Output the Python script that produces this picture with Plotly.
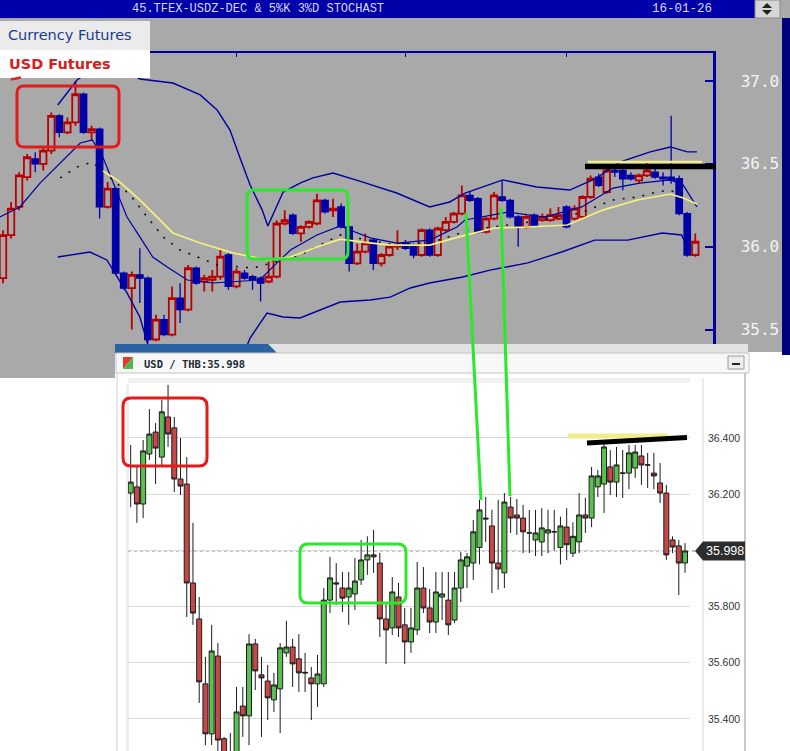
import plotly.graph_objects as go

# ---------------- TOP chart: TFEX USD futures (daily candles) ----------------
TOP_OPEN = [35.81, 36.07, 36.24, 36.42, 36.53, 36.50, 36.58, 36.79, 36.69, 36.75,
            36.92, 36.69, 36.71, 36.24, 36.35, 35.84, 35.75, 35.83, 35.81, 35.44,
            35.56, 35.47, 35.69, 35.62, 35.87, 35.79, 35.80, 35.82, 35.95, 35.76,
            35.84, 35.82, 35.81, 35.79, 35.82, 36.14, 36.19, 36.08, 36.12, 36.14,
            36.28, 36.22, 36.24, 36.12, 35.90, 35.97, 36.04, 35.90, 35.95, 36.00,
            36.02, 36.01, 35.95, 36.10, 35.95, 36.10, 36.15, 36.20, 36.31, 36.29,
            36.09, 36.17, 36.30, 36.28, 36.18, 36.12, 36.19, 36.16, 36.16, 36.17,
            36.24, 36.17, 36.18, 36.30, 36.42, 36.33, 36.46, 36.46, 36.43, 36.40,
            36.43, 36.45, 36.42, 36.42, 36.41, 36.20, 35.95]
TOP_HIGH = [36.10, 36.27, 36.45, 36.56, 36.57, 36.60, 36.81, 36.80, 36.78, 37.00,
            36.93, 36.73, 36.72, 36.39, 36.36, 35.85, 35.85, 35.99, 35.82, 35.59,
            35.59, 35.76, 35.78, 35.89, 35.88, 35.83, 35.86, 35.98, 35.96, 35.87,
            35.86, 35.83, 35.82, 35.91, 36.16, 36.22, 36.20, 36.13, 36.16, 36.32,
            36.29, 36.29, 36.26, 36.13, 36.02, 36.08, 36.05, 35.96, 36.01, 36.10,
            36.04, 36.02, 36.11, 36.11, 36.12, 36.18, 36.21, 36.37, 36.33, 36.30,
            36.18, 36.33, 36.40, 36.29, 36.19, 36.19, 36.20, 36.20, 36.23, 36.24,
            36.25, 36.25, 36.31, 36.43, 36.44, 36.48, 36.48, 36.50, 36.45, 36.44,
            36.51, 36.47, 36.45, 36.79, 36.43, 36.21, 36.08]
TOP_LOW = [35.78, 36.05, 36.22, 36.40, 36.45, 36.46, 36.56, 36.66, 36.68, 36.73,
           36.68, 36.64, 36.17, 36.23, 35.83, 35.74, 35.50, 35.66, 35.42, 35.43,
           35.46, 35.46, 35.54, 35.61, 35.77, 35.73, 35.73, 35.80, 35.74, 35.75,
           35.80, 35.74, 35.67, 35.78, 35.81, 36.13, 36.07, 36.03, 36.11, 36.13,
           36.20, 36.18, 36.11, 35.85, 35.89, 35.96, 35.86, 35.88, 35.94, 35.98,
           35.98, 35.93, 35.94, 35.94, 35.94, 36.09, 36.14, 36.19, 36.27, 36.08,
           36.08, 36.16, 36.27, 36.17, 36.00, 36.11, 36.12, 36.15, 36.15, 36.16,
           36.11, 36.16, 36.17, 36.29, 36.36, 36.32, 36.42, 36.34, 36.40, 36.38,
           36.42, 36.41, 36.37, 36.38, 36.19, 35.94, 35.94]
TOP_CLOSE = [36.07, 36.23, 36.43, 36.54, 36.50, 36.58, 36.79, 36.69, 36.75, 36.92,
             36.69, 36.71, 36.24, 36.35, 35.84, 35.75, 35.83, 35.81, 35.44, 35.56,
             35.47, 35.69, 35.62, 35.87, 35.78, 35.81, 35.82, 35.94, 35.76, 35.85,
             35.81, 35.80, 35.78, 35.82, 36.14, 36.16, 36.08, 36.12, 36.15, 36.28,
             36.21, 36.23, 36.12, 35.90, 35.97, 36.02, 35.90, 35.95, 36.00, 36.01,
             35.99, 35.95, 36.10, 35.95, 36.11, 36.15, 36.20, 36.31, 36.28, 36.09,
             36.17, 36.31, 36.28, 36.18, 36.12, 36.18, 36.13, 36.18, 36.19, 36.19,
             36.12, 36.23, 36.30, 36.41, 36.37, 36.46, 36.45, 36.41, 36.41, 36.43,
             36.46, 36.42, 36.41, 36.40, 36.20, 35.95, 36.03]

# indicator lines of the top chart, read at sample positions (bar index, value)
UPPER_X = [6.8, 9.2, 13.0, 17.0, 21.1, 24.5, 26.6, 28.2, 29.4, 30.7, 32.2, 32.9, 34.8, 36.9,
           38.5, 41.0, 44.7, 48.9, 53.0, 55.5, 57.4, 62.1, 66.3, 70.4, 73.8, 76.6, 80.4,
           82.9, 85.0, 86.2]
UPPER_Y = [36.855, 37.006, 37.127, 37.012, 36.988, 36.916, 36.825, 36.704, 36.541, 36.372,
           36.221, 36.125, 36.330, 36.384, 36.415, 36.445, 36.390, 36.324, 36.240, 36.270,
           36.324, 36.403, 36.360, 36.342, 36.415, 36.511, 36.572, 36.602, 36.572, 36.572]
LOWER_X = [6.8, 10.8, 12.9, 14.2, 15.4, 17.0, 17.9, 18.9, 28.8, 30.7, 32.8, 34.8, 36.9,
           39.4, 41.9, 45.6, 48.1, 50.6, 53.0, 57.1, 60.5, 65.2, 69.4, 73.5, 77.6, 81.9,
           84.3, 84.7]
LOWER_Y = [35.938, 35.968, 35.920, 35.817, 35.721, 35.576, 35.437, 35.256, 35.226, 35.449,
           35.600, 35.576, 35.570, 35.618, 35.666, 35.678, 35.696, 35.751, 35.781, 35.817,
           35.859, 35.902, 35.968, 36.040, 36.040, 36.083, 36.071, 36.028]
INNER_X = [-0.4, 2.1, 4.6, 7.1, 9.6, 11.1, 12.4, 13.7, 15.4, 17.0, 18.6, 20.4, 22.9, 26.1,
           31.9, 33.5, 35.7, 39.0, 41.9, 43.1, 45.6, 48.9, 53.0, 56.4, 57.4, 62.7, 67.3,
           71.9, 75.8, 79.1, 82.9, 84.5, 86.2]
INNER_Y = [36.179, 36.240, 36.384, 36.505, 36.626, 36.644, 36.541, 36.384, 36.179, 36.059,
           35.938, 35.877, 35.799, 35.781, 35.799, 35.877, 35.980, 36.071, 36.125, 36.101,
           36.053, 36.022, 36.040, 36.119, 36.161, 36.209, 36.179, 36.240, 36.354, 36.384,
           36.403, 36.372, 36.240]
YELLOW_X = [12.4, 14.2, 17.0, 21.1, 24.5, 28.6, 32.8, 35.7, 39.0, 41.9, 44.7, 48.1, 53.0,
            57.1, 61.1, 65.2, 70.1, 74.5, 78.8, 82.9, 84.5, 86.2]
YELLOW_Y = [36.457, 36.403, 36.282, 36.083, 36.022, 35.962, 35.920, 35.938, 35.998, 36.046,
            36.028, 36.010, 36.010, 36.065, 36.113, 36.119, 36.131, 36.221, 36.282, 36.318,
            36.294, 36.258]
DOT_X = [7.1, 9.2, 11.1, 15.8, 17.9, 19.9, 22.0, 24.5, 26.6, 31.1, 36.9, 41.9, 48.1, 53.0,
         58.0, 65.5, 71.7, 75.8, 78.8, 81.2, 82.9, 85.3]
DOT_Y = [36.415, 36.481, 36.511, 36.312, 36.179, 36.059, 35.980, 35.932, 35.890, 35.871,
         35.950, 36.071, 36.016, 36.022, 36.101, 36.149, 36.203, 36.282, 36.300, 36.330,
         36.342, 36.282]

TOP_TICKS = [37.0, 36.5, 36.0, 35.5]
TOP_TICK_TEXT = ["37.0", "36.5", "36.0", "35.5"]
TOP_XTICKS = [29, 50, 70]

# ---------------- BOTTOM chart: USD / THB spot (daily candles) ----------------
BOT_OPEN = [36.204, 36.226, 36.165, 36.343, 36.421, 36.332, 36.475, 36.436, 36.254, 36.236,
            35.884, 35.756, 35.525, 35.347, 35.624, 35.330, 35.220, 35.270, 35.446, 35.411,
            35.667, 35.557, 35.535, 35.468, 35.507, 35.635, 35.656, 35.614, 35.566, 35.546,
            35.525, 35.525, 35.823, 35.880, 35.866, 35.834, 35.845, 35.895, 35.966, 35.984,
            35.955, 35.756, 35.724, 35.834, 35.735, 35.674, 35.717, 35.866, 35.795, 35.745,
            35.834, 35.823, 35.752, 35.866, 35.944, 35.955, 36.010, 36.115, 36.087, 35.955,
            35.920, 36.154, 36.126, 36.115, 36.062, 36.037, 36.030, 36.062, 36.066, 36.010,
            36.083, 35.990, 36.030, 36.126, 36.115, 36.226, 36.236, 36.297, 36.243, 36.275,
            36.275, 36.293, 36.336, 36.304, 36.275, 36.240, 36.204, 36.037, 36.016, 35.955]
BOT_HIGH = [36.375, 36.297, 36.393, 36.503, 36.453, 36.535, 36.589, 36.475, 36.400, 36.332,
            36.098, 35.834, 35.621, 35.735, 35.670, 35.336, 35.350, 35.514, 35.514, 35.702,
            35.685, 35.621, 35.592, 35.564, 35.670, 35.749, 35.685, 35.702, 35.635, 35.585,
            35.628, 35.866, 35.977, 35.955, 35.923, 35.923, 35.973, 36.037, 36.050, 36.073,
            35.991, 35.813, 35.905, 35.884, 35.795, 35.795, 35.959, 35.941, 35.863, 35.923,
            35.923, 35.923, 35.923, 35.994, 35.991, 36.108, 36.180, 36.190, 36.144, 36.180,
            36.204, 36.190, 36.183, 36.162, 36.144, 36.144, 36.150, 36.144, 36.144, 36.120,
            36.150, 36.100, 36.204, 36.187, 36.297, 36.286, 36.393, 36.357, 36.368, 36.357,
            36.375, 36.375, 36.375, 36.347, 36.347, 36.311, 36.233, 36.050, 36.037, 36.026]
BOT_LOW = [36.154, 36.098, 36.115, 36.322, 36.236, 36.304, 36.368, 36.208, 36.197, 35.763,
           35.735, 35.457, 35.307, 35.307, 35.280, 35.200, 35.180, 35.240, 35.336, 35.307,
           35.503, 35.336, 35.396, 35.425, 35.350, 35.621, 35.514, 35.496, 35.496, 35.396,
           35.443, 35.514, 35.777, 35.806, 35.781, 35.735, 35.788, 35.877, 35.913, 35.920,
           35.692, 35.596, 35.699, 35.692, 35.596, 35.635, 35.699, 35.777, 35.706, 35.706,
           35.752, 35.699, 35.741, 35.816, 35.866, 35.895, 35.950, 36.030, 35.848, 35.860,
           35.866, 36.062, 36.055, 35.990, 35.990, 35.980, 35.980, 35.990, 36.000, 35.950,
           35.966, 35.977, 35.990, 36.062, 36.083, 36.190, 36.133, 36.197, 36.190, 36.187,
           36.218, 36.258, 36.233, 36.222, 36.218, 36.169, 35.966, 35.990, 35.841, 35.920]
BOT_CLOSE = [36.243, 36.165, 36.354, 36.414, 36.364, 36.493, 36.414, 36.254, 36.229, 35.884,
             35.777, 35.532, 35.347, 35.642, 35.325, 35.250, 35.280, 35.425, 35.411, 35.667,
             35.571, 35.546, 35.475, 35.521, 35.653, 35.656, 35.596, 35.564, 35.564, 35.525,
             35.560, 35.823, 35.902, 35.884, 35.830, 35.866, 35.891, 35.966, 35.984, 35.977,
             35.756, 35.717, 35.852, 35.724, 35.674, 35.724, 35.866, 35.795, 35.745, 35.852,
             35.845, 35.735, 35.866, 35.966, 35.977, 36.066, 36.144, 36.112, 35.955, 35.934,
             36.172, 36.115, 36.115, 36.066, 36.062, 36.062, 36.080, 36.073, 36.066, 36.087,
             36.020, 36.050, 36.126, 36.115, 36.265, 36.265, 36.368, 36.243, 36.304, 36.275,
             36.347, 36.350, 36.304, 36.304, 36.265, 36.204, 35.984, 36.012, 35.955, 35.998]

BOT_TICKS = [35.4, 35.6, 35.8, 36.0, 36.2, 36.4]
BOT_TICK_TEXT = ["35.400", "35.600", "35.800", "", "36.200", "36.400"]
LAST_PRICE = 35.998

TITLE_TEXT = "45.TFEX-USDZ-DEC &amp; 5%K 3%D STOCHAST"
DATE_TEXT = "16-01-26"
PAIR_TEXT = "USD / THB:35.998"

# ---------------- layout geometry (pixels of the 790x751 page) ----------------
W, H = 790, 751


def px(x):
    return x / W


def py(y):
    return 1 - y / H


TOP_Y_RANGE = [35.4068, 37.169]
TOP_X_RANGE = [-0.373, 88.2]
BOT_Y_RANGE = [35.286, 36.6135]
BOT_X_RANGE = [-0.43, 89.8]
BOT_TOP_PX, BOT_BOTTOM_PX = 378, 751

fig = go.Figure()

# top indicators
fig.add_trace(go.Scatter(x=UPPER_X, y=UPPER_Y, mode="lines", line=dict(color="#0000A0", width=1.4),
                         xaxis="x", yaxis="y", hoverinfo="skip"))
fig.add_trace(go.Scatter(x=LOWER_X, y=LOWER_Y, mode="lines", line=dict(color="#0000A0", width=1.4),
                         xaxis="x", yaxis="y", hoverinfo="skip"))
fig.add_trace(go.Scatter(x=INNER_X, y=INNER_Y, mode="lines", line=dict(color="#0000A0", width=1.2),
                         xaxis="x", yaxis="y", hoverinfo="skip"))
fig.add_trace(go.Scatter(x=DOT_X, y=DOT_Y, mode="lines", line=dict(color="#101010", width=1.6, dash="2px,8px"),
                         xaxis="x", yaxis="y", hoverinfo="skip"))
fig.add_trace(go.Scatter(x=YELLOW_X, y=YELLOW_Y, mode="lines", line=dict(color="#F6F07C", width=1.7),
                         xaxis="x", yaxis="y", hoverinfo="skip"))

fig.add_trace(go.Candlestick(
    x=list(range(len(TOP_OPEN))), open=TOP_OPEN, high=TOP_HIGH, low=TOP_LOW, close=TOP_CLOSE,
    increasing=dict(line=dict(color="#B80000", width=1.8), fillcolor="rgba(0,0,0,0)"),
    decreasing=dict(line=dict(color="#0000A8", width=1.3), fillcolor="#0000A8"),
    xaxis="x", yaxis="y", hoverinfo="skip", showlegend=False))

fig.add_trace(go.Candlestick(
    x=list(range(len(BOT_OPEN))), open=BOT_OPEN, high=BOT_HIGH, low=BOT_LOW, close=BOT_CLOSE,
    increasing=dict(line=dict(color="#1c1c1c", width=1), fillcolor="#5CBF52"),
    decreasing=dict(line=dict(color="#1c1c1c", width=1), fillcolor="#C84848"),
    xaxis="x2", yaxis="y2", hoverinfo="skip", showlegend=False))

shapes = []


def rect(x0, y0, x1, y1, fill, layer="below", line_color=None, line_width=0):
    d = dict(type="rect", xref="paper", yref="paper", x0=px(x0), x1=px(x1), y0=py(y1), y1=py(y0),
             fillcolor=fill, layer=layer, line=dict(width=line_width, color=line_color or fill))
    return d


def poly(points, fill, layer="above", line_color=None, line_width=0):
    path = "M " + " L ".join(f"{px(x):.5f},{py(y):.5f}" for x, y in points) + " Z"
    return dict(type="path", xref="paper", yref="paper", path=path, fillcolor=fill, layer=layer,
                line=dict(width=line_width, color=line_color or fill))


def seg(x0, y0, x1, y1, color, width, layer="above", dash="solid"):
    return dict(type="line", xref="paper", yref="paper", x0=px(x0), y0=py(y0), x1=px(x1), y1=py(y1),
                layer=layer, line=dict(color=color, width=width, dash=dash))


def rrect(x0, y0, x1, y1, r, color, width):
    P = lambda x, y: f"{px(x):.5f},{py(y):.5f}"
    path = (f"M {P(x0 + r, y0)} L {P(x1 - r, y0)} Q {P(x1, y0)} {P(x1, y0 + r)} "
            f"L {P(x1, y1 - r)} Q {P(x1, y1)} {P(x1 - r, y1)} L {P(x0 + r, y1)} "
            f"Q {P(x0, y1)} {P(x0, y1 - r)} L {P(x0, y0 + r)} Q {P(x0, y0)} {P(x0 + r, y0)} Z")
    return dict(type="path", xref="paper", yref="paper", path=path, layer="above",
                line=dict(color=color, width=width), fillcolor="rgba(0,0,0,0)")


# backgrounds of the upper screenshot
shapes.append(rect(0, 18, 783, 352, "#A9A9A9"))
shapes.append(rect(0, 352, 115, 378, "#A9A9A9"))
shapes.append(rect(782, 18, 790, 355, "#00007C"))
shapes.append(rect(0, 0, 790, 18, "#0000A8"))
shapes.append(rect(780, 0, 790, 18, "#A9A9A9"))
shapes.append(rect(755, 0, 780, 18, "#D6D6D6", line_color="#8A8A8A", line_width=1))
shapes.append(poly([(762, 8), (772, 8), (767, 3)], "#222222"))
shapes.append(poly([(762, 10), (772, 10), (767, 15)], "#222222"))
# label boxes
shapes.append(rect(0, 21, 150, 50, "#EBEBEB", layer="above"))
shapes.append(rect(0, 50, 150, 78, "#FFFFFF", layer="above"))
shapes.append(seg(11, 79.5, 21, 77.5, "#E02020", 2.5))

# lower screenshot frame
shapes.append(rect(128, 378, 690, 383, "#F1F1F1"))
shapes.append(rect(126, 383, 129, 751, "#EFEFEF"))
shapes.append(poly([(268, 344), (748, 344), (748, 353), (277, 353)], "#E2E2E2"))
shapes.append(poly([(115, 344), (268, 344), (277, 353), (115, 353)], "#2A63A3"))
shapes.append(rect(116, 353, 749, 373, "#F7F7F7", layer="above", line_color="#C4C4C4", line_width=1))
shapes.append(poly([(123, 357), (133, 357), (123, 369)], "#E03A2C"))
shapes.append(poly([(133, 357), (133, 369), (123, 369)], "#4DB848"))
shapes.append(rect(728, 356, 744, 369, "#EDEDED", layer="above", line_color="#9A9A9A", line_width=1))
shapes.append(seg(732, 364, 740, 364, "#222222", 2))
shapes.append(seg(117, 373, 117, 751, "#CFCFCF", 1, layer="below"))
shapes.append(seg(703, 378, 703, 751, "#D8D8D8", 1, layer="below"))
shapes.append(seg(745, 373, 745, 751, "#B4B4B4", 1.5, layer="below"))

# last-price dotted line and tag
shapes.append(dict(type="line", xref="paper", yref="y2", x0=px(128), x1=px(695), y0=LAST_PRICE, y1=LAST_PRICE,
                   layer="below", line=dict(color="#7A7A7A", width=1, dash="dot")))
tag_y = BOT_TOP_PX + (BOT_Y_RANGE[1] - LAST_PRICE) / (BOT_Y_RANGE[1] - BOT_Y_RANGE[0]) * (BOT_BOTTOM_PX - BOT_TOP_PX)
shapes.append(poly([(695, tag_y), (703, tag_y - 9.5), (745, tag_y - 9.5), (745, tag_y + 9.5), (703, tag_y + 9.5)],
                   "#2D2D2D"))

# hand-drawn annotations
shapes.append(rrect(17, 86, 119, 147, 7, "#E41B1B", 3))
shapes.append(rrect(123, 398, 207, 466, 8, "#E41B1B", 3))
shapes.append(rrect(247, 190, 348, 259, 7, "#2CE82C", 3))
shapes.append(rrect(300, 544, 406, 603, 8, "#2CE82C", 3))
shapes.append(seg(466, 213, 481, 500, "#2CE82C", 3))
shapes.append(seg(501, 208, 510, 496, "#2CE82C", 3))
shapes.append(seg(588, 162, 702, 162, "#F3EE86", 2.5))
shapes.append(seg(585, 166.5, 716, 166.5, "#000000", 5.5))
shapes.append(seg(568, 436, 668, 436, "#F3EC8A", 5))
shapes.append(seg(587, 443, 687, 437.5, "#000000", 5))

annotations = [
    dict(text=TITLE_TEXT, x=px(130), y=py(9), xanchor="left", yanchor="middle",
         font=dict(family="Liberation Mono", size=12, color="#D8D8EE")),
    dict(text=DATE_TEXT, x=px(650), y=py(9), xanchor="left", yanchor="middle",
         font=dict(family="Liberation Mono", size=12.5, color="#D8D8EE")),
    dict(text="Currency Futures", x=px(6), y=py(35.5), xanchor="left", yanchor="middle",
         font=dict(family="DejaVu Sans", size=14.5, color="#1B3C96")),
    dict(text="<b>USD Futures</b>", x=px(7), y=py(64.5), xanchor="left", yanchor="middle",
         font=dict(family="DejaVu Sans", size=14.5, color="#D42020")),
    dict(text="<b>" + PAIR_TEXT + "</b>", x=px(142), y=py(363.5), xanchor="left", yanchor="middle",
         font=dict(family="DejaVu Sans Mono", size=10.5, color="#1E2A32")),
    dict(text=f"{LAST_PRICE:.3f}", x=px(724.5), y=py(tag_y), xanchor="center", yanchor="middle",
         font=dict(family="Liberation Sans", size=12.5, color="#FFFFFF")),
]
for a in annotations:
    a.update(xref="paper", yref="paper", showarrow=False)

fig.update_layout(
    width=W, height=H, margin=dict(l=0, r=0, t=0, b=0), template="none",
    paper_bgcolor="#FFFFFF", plot_bgcolor="rgba(0,0,0,0)", showlegend=False,
    boxgap=0.2, boxgroupgap=0, hovermode=False,
    shapes=shapes, annotations=annotations,
    xaxis=dict(domain=[0, px(713)], range=TOP_X_RANGE, anchor="y", side="top", showline=True,
               linecolor="#0000A0", linewidth=2, ticks="inside", tickvals=TOP_XTICKS, ticklen=4,
               tickcolor="#0000A0", tickwidth=1.5, showticklabels=False, showgrid=False, zeroline=False,
               rangeslider=dict(visible=False), automargin=False, fixedrange=True),
    yaxis=dict(domain=[py(345), py(53)], range=TOP_Y_RANGE, anchor="x", side="right", showline=True,
               linecolor="#0000A0", linewidth=2.5, ticks="inside", ticklen=8, tickwidth=2,
               tickcolor="#0000A0", tickvals=TOP_TICKS, ticktext=TOP_TICK_TEXT, ticklabelstandoff=22,
               tickfont=dict(family="DejaVu Sans Mono", size=16, color="#F4F4F4"),
               showgrid=False, zeroline=False, automargin=False, fixedrange=True),
    xaxis2=dict(domain=[px(128), px(690)], range=BOT_X_RANGE, anchor="y2", showline=False, ticks="",
                showticklabels=False, showgrid=False, zeroline=False, rangeslider=dict(visible=False),
                automargin=False, fixedrange=True),
    yaxis2=dict(domain=[0, py(BOT_TOP_PX)], range=BOT_Y_RANGE, anchor="x2", side="right", showline=False,
                ticks="", tickvals=BOT_TICKS, ticktext=BOT_TICK_TEXT, ticklabelstandoff=17,
                tickfont=dict(family="Liberation Sans", size=10.5, color="#333333"),
                showgrid=True, gridcolor="#DADADA", gridwidth=1, zeroline=False, automargin=False,
                fixedrange=True),
)

fig.write_html("out.html", config={"displayModeBar": False, "staticPlot": True},
               post_script="document.body.style.margin='0';document.body.style.overflow='hidden';")
